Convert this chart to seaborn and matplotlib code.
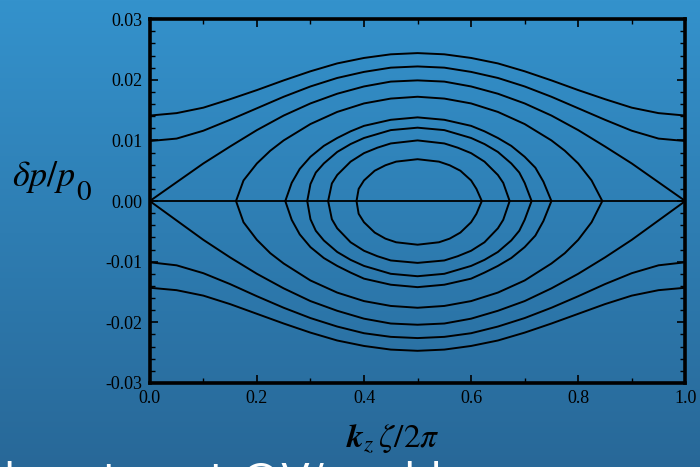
import numpy as np
import pandas as pd
import matplotlib
matplotlib.use("Agg")
import matplotlib.pyplot as plt
import seaborn as sns

# open (passing) orbits and separatrix, sampled on a common x grid
x_grid = [0.00, 0.05, 0.10, 0.15, 0.20, 0.25, 0.30, 0.35, 0.40, 0.45, 0.50,
          0.55, 0.60, 0.65, 0.70, 0.75, 0.80, 0.85, 0.90, 0.95, 1.00]
outer_up = [0.0141, 0.0145, 0.0154, 0.0168, 0.0183, 0.0199, 0.0214, 0.0227, 0.0236, 0.0242, 0.0244,
            0.0242, 0.0236, 0.0227, 0.0214, 0.0199, 0.0183, 0.0168, 0.0154, 0.0145, 0.0141]
outer_dn = [-0.0143, -0.0147, -0.0156, -0.0170, -0.0186, -0.0202, -0.0217, -0.0230, -0.0239, -0.0245, -0.0247,
            -0.0245, -0.0239, -0.0230, -0.0217, -0.0202, -0.0186, -0.0170, -0.0156, -0.0147, -0.0143]
second_up = [0.0099, 0.0103, 0.0116, 0.0134, 0.0153, 0.0172, 0.0189, 0.0203, 0.0213, 0.0220, 0.0222,
             0.0220, 0.0213, 0.0203, 0.0189, 0.0172, 0.0153, 0.0134, 0.0116, 0.0103, 0.0099]
second_dn = [-0.0101, -0.0106, -0.0119, -0.0137, -0.0157, -0.0176, -0.0193, -0.0207, -0.0218, -0.0224, -0.0226,
             -0.0224, -0.0218, -0.0207, -0.0193, -0.0176, -0.0157, -0.0137, -0.0119, -0.0106, -0.0101]
sep_up = [0.0, 0.0031, 0.0062, 0.0090, 0.0117, 0.0141, 0.0161, 0.0177, 0.0189, 0.0197, 0.0199,
          0.0197, 0.0189, 0.0177, 0.0161, 0.0141, 0.0117, 0.0090, 0.0062, 0.0031, 0.0]
sep_dn = [0.0, -0.0032, -0.0064, -0.0093, -0.0120, -0.0144, -0.0165, -0.0181, -0.0194, -0.0202, -0.0204,
          -0.0202, -0.0194, -0.0181, -0.0165, -0.0144, -0.0120, -0.0093, -0.0064, -0.0032, 0.0]

# closed (trapped) orbits: x, upper branch, lower branch
orbE_x = [0.161, 0.175, 0.20, 0.225, 0.25, 0.30, 0.35, 0.40, 0.45, 0.50,
          0.55, 0.60, 0.65, 0.70, 0.75, 0.775, 0.80, 0.825, 0.845]
orbE_up = [0.0, 0.0034, 0.0062, 0.0083, 0.0100, 0.0127, 0.0147, 0.0161, 0.0169, 0.0172,
           0.0169, 0.0161, 0.0147, 0.0127, 0.0100, 0.0083, 0.0062, 0.0034, 0.0]
orbE_dn = [0.0, -0.0035, -0.0064, -0.0086, -0.0103, -0.0131, -0.0151, -0.0165, -0.0173, -0.0176,
           -0.0173, -0.0165, -0.0151, -0.0131, -0.0103, -0.0086, -0.0064, -0.0035, 0.0]

orbD_x = [0.253, 0.265, 0.28, 0.30, 0.325, 0.35, 0.375, 0.40, 0.45, 0.50,
          0.55, 0.60, 0.625, 0.65, 0.675, 0.70, 0.72, 0.735, 0.750]
orbD_up = [0.0, 0.0030, 0.0053, 0.0073, 0.0091, 0.0104, 0.0115, 0.0124, 0.0134, 0.0138,
           0.0134, 0.0124, 0.0115, 0.0104, 0.0091, 0.0073, 0.0055, 0.0032, 0.0]
orbD_dn = [0.0, -0.0031, -0.0055, -0.0076, -0.0094, -0.0107, -0.0118, -0.0128, -0.0138, -0.0142,
           -0.0138, -0.0128, -0.0118, -0.0107, -0.0094, -0.0076, -0.0057, -0.0033, 0.0]

orbC_x = [0.294, 0.30, 0.31, 0.325, 0.35, 0.375, 0.40, 0.45, 0.50,
          0.55, 0.60, 0.625, 0.65, 0.675, 0.69, 0.70, 0.713]
orbC_up = [0.0, 0.0028, 0.0047, 0.0062, 0.0081, 0.0094, 0.0104, 0.0117, 0.0121,
           0.0117, 0.0104, 0.0094, 0.0081, 0.0062, 0.0047, 0.0030, 0.0]
orbC_dn = [0.0, -0.0030, -0.0049, -0.0065, -0.0084, -0.0097, -0.0107, -0.0120, -0.0124,
           -0.0120, -0.0107, -0.0097, -0.0084, -0.0065, -0.0049, -0.0031, 0.0]

orbB_x = [0.333, 0.34, 0.35, 0.375, 0.40, 0.425, 0.45, 0.50,
          0.55, 0.575, 0.60, 0.625, 0.65, 0.66, 0.672]
orbB_up = [0.0, 0.0029, 0.0043, 0.0065, 0.0079, 0.0088, 0.0095, 0.0100,
           0.0095, 0.0088, 0.0079, 0.0065, 0.0043, 0.0030, 0.0]
orbB_dn = [0.0, -0.0030, -0.0045, -0.0068, -0.0082, -0.0091, -0.0098, -0.0102,
           -0.0098, -0.0091, -0.0082, -0.0068, -0.0045, -0.0031, 0.0]

orbA_x = [0.386, 0.39, 0.40, 0.42, 0.44, 0.46, 0.50, 0.54, 0.56, 0.58, 0.60, 0.61, 0.620]
orbA_up = [0.0, 0.0020, 0.0034, 0.0050, 0.0059, 0.0065, 0.0069, 0.0065, 0.0059, 0.0050, 0.0034, 0.0020, 0.0]
orbA_dn = [0.0, -0.0021, -0.0035, -0.0052, -0.0062, -0.0068, -0.0072, -0.0068, -0.0062, -0.0052, -0.0035, -0.0021, 0.0]

y_ticks = [-0.03, -0.02, -0.01, 0.00, 0.01, 0.02, 0.03]
x_ticks = [0.0, 0.2, 0.4, 0.6, 0.8, 1.0]

# long-form table, one unit per drawn curve
frames = []
for name, ys in [("outer_up", outer_up), ("outer_dn", outer_dn), ("second_up", second_up),
                 ("second_dn", second_dn), ("sep_up", sep_up), ("sep_dn", sep_dn)]:
    frames.append(pd.DataFrame({"x": x_grid, "y": ys, "curve": name}))
for name, xs, up, dn in [("E", orbE_x, orbE_up, orbE_dn), ("D", orbD_x, orbD_up, orbD_dn),
                         ("C", orbC_x, orbC_up, orbC_dn), ("B", orbB_x, orbB_up, orbB_dn),
                         ("A", orbA_x, orbA_up, orbA_dn)]:
    loop_x = list(xs) + list(xs[::-1])
    loop_y = list(up) + list(dn[::-1])
    frames.append(pd.DataFrame({"x": loop_x, "y": loop_y, "curve": "orb" + name}))
df = pd.concat(frames, ignore_index=True)

sns.set_style("ticks")
plt.rcParams["font.family"] = ["Liberation Serif", "DejaVu Serif"]
plt.rcParams["mathtext.fontset"] = "stix"
plt.rcParams["axes.unicode_minus"] = False

fig = plt.figure(figsize=(7, 4.67), dpi=100)

# slide background gradient
bg = fig.add_axes([0, 0, 1, 1], zorder=-1)
top_c = np.array([52, 146, 204]) / 255
bot_c = np.array([40, 104, 152]) / 255
t = np.linspace(0, 1, 256)[:, None]
grad = (top_c[None, :] * (1 - t) + bot_c[None, :] * t)[:, None, :]
bg.imshow(grad, aspect="auto", extent=[0, 1, 0, 1])
bg.axis("off")

ax = fig.add_axes([0.214, 0.180, 0.765, 0.779])
ax.set_facecolor("none")
sns.lineplot(data=df, x="x", y="y", units="curve", estimator=None, sort=False,
             color="black", lw=1.4, legend=False, ax=ax)
ax.axhline(0, color="black", lw=1.3)

ax.set_xlim(0, 1)
ax.set_ylim(-0.03, 0.03)
ax.set_xticks(x_ticks)
ax.set_xticklabels([f"{v:.1f}" for v in x_ticks])
ax.set_yticks(y_ticks)
ax.set_yticklabels([f"{v:.2f}" for v in y_ticks])
ax.set_xticks(np.arange(0.1, 1.0, 0.2), minor=True)
ax.set_yticks(np.arange(-0.03, 0.0301, 0.002), minor=True)
ax.tick_params(which="both", direction="in", top=True, right=True, color="black")
ax.tick_params(which="major", length=6, width=1.2, labelsize=13, labelcolor="black", pad=5)
ax.tick_params(which="minor", length=3.5, width=1.0)
for s in ax.spines.values():
    s.set_linewidth(2.6)
    s.set_color("black")
ax.set_xlabel("")
ax.set_ylabel("")

# axis titles as on the slide
fig.text(0.017, 0.602, r"$\delta p/p$", fontsize=26, color="black", ha="left", va="baseline")
fig.text(0.108, 0.572, r"$\mathit{0}$", fontsize=21, color="black", ha="left", va="baseline")
fig.text(0.561, 0.043, r"$\boldsymbol{k}_z\,\zeta/2\pi$", fontsize=24, color="black",
         ha="center", va="baseline")

# cut-off slide text below the chart
fig.text(0.005, -0.058, "how to get @V/   add", fontsize=30, color="white",
         family=["DejaVu Sans"], ha="left", va="baseline")

fig.savefig("out.png", dpi=100)
